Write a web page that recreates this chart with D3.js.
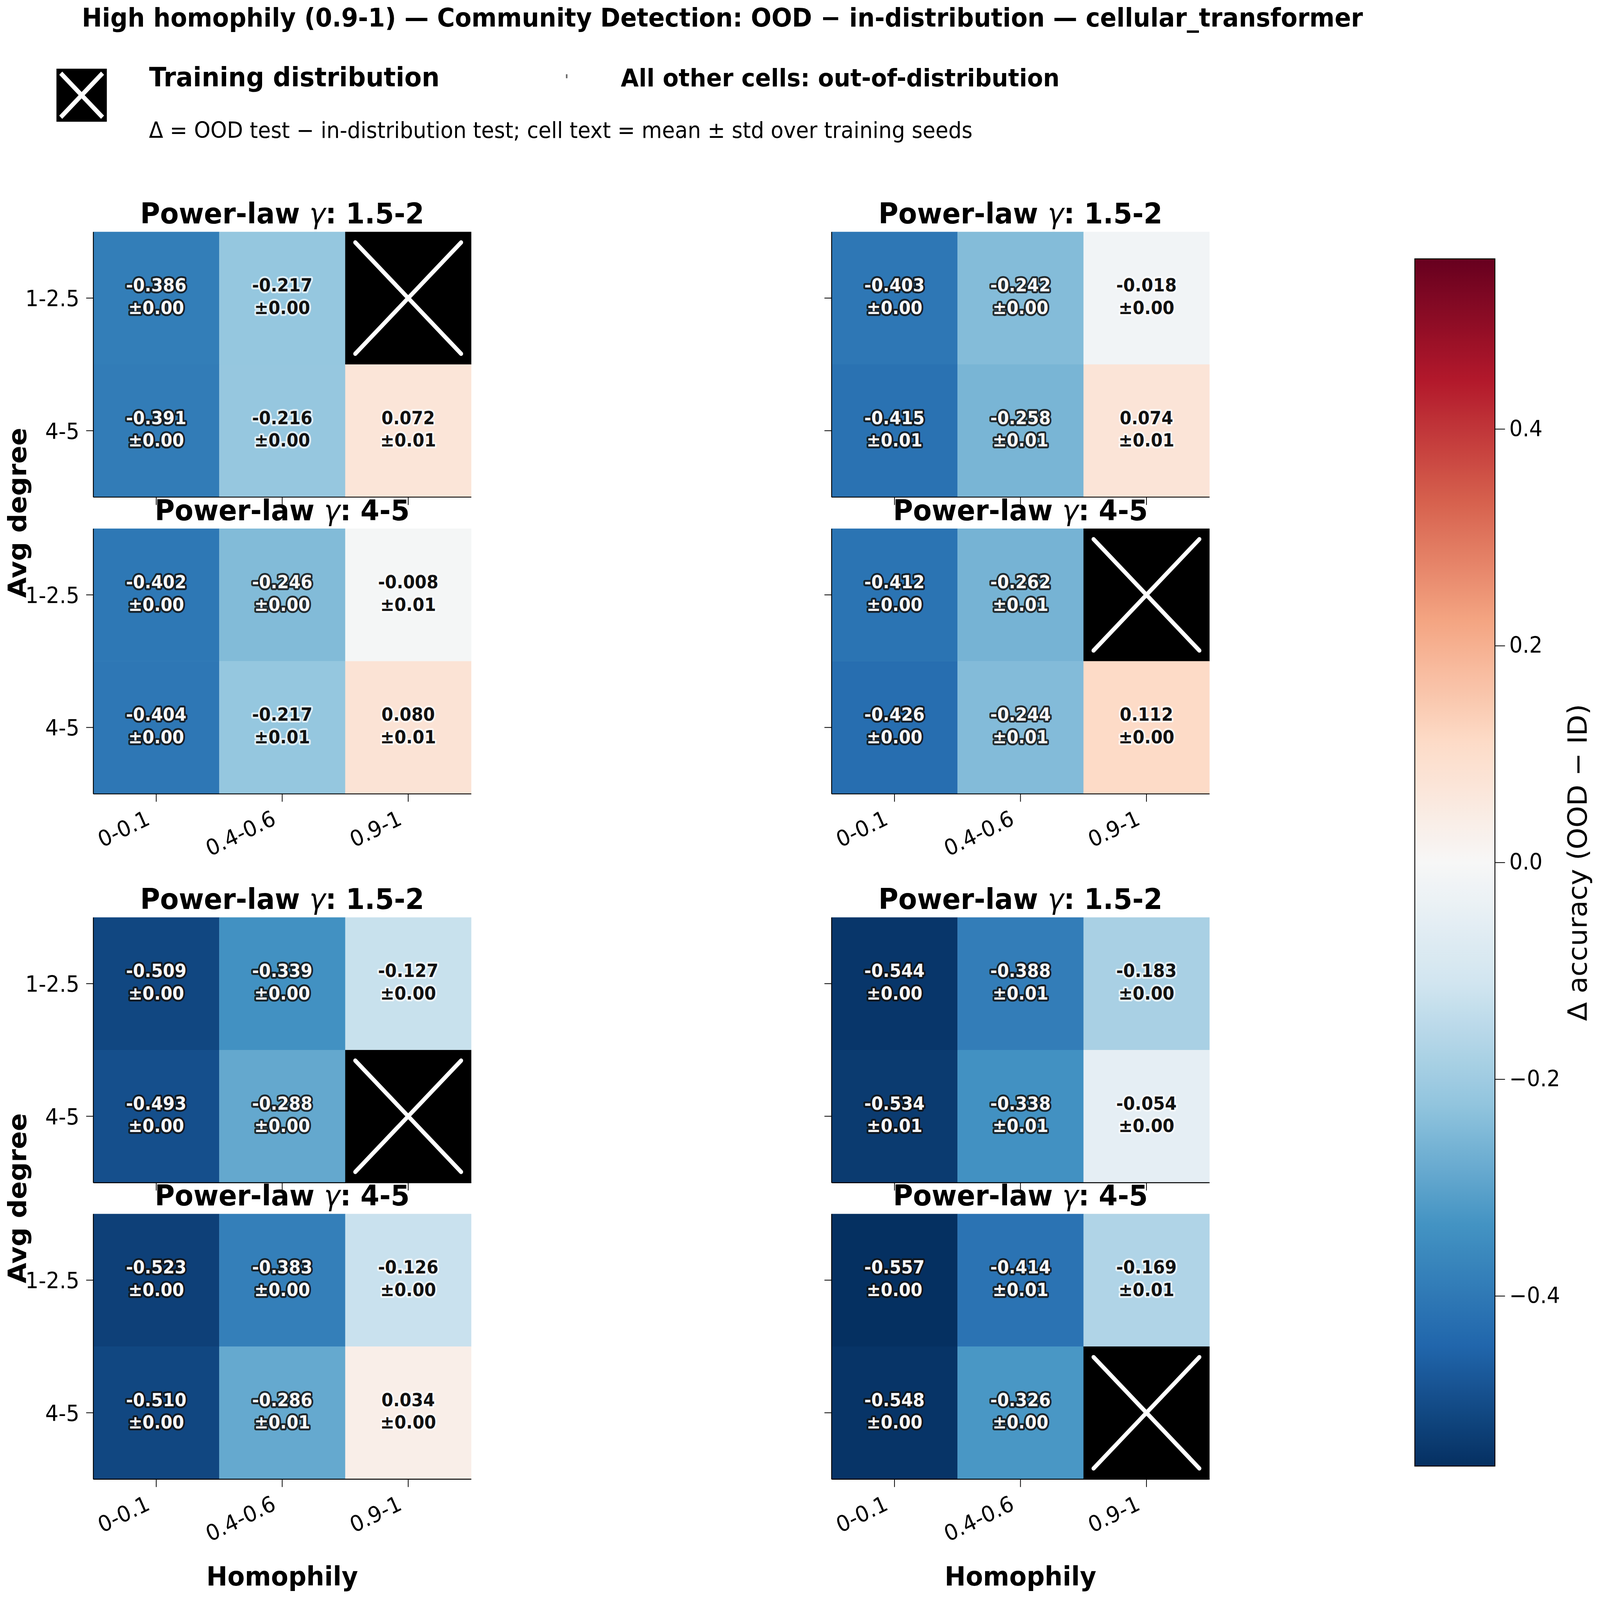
<!DOCTYPE html>
<html><head><meta charset="utf-8">
<script src="https://cdn.jsdelivr.net/npm/d3@7"></script>
<style>html,body{margin:0;padding:0;background:#fff;width:100%;height:100%;overflow:hidden}svg{display:block;width:100vw;height:100vh}</style>
</head><body><svg id="chart"></svg>
<script>
// ---------------- data ----------------
const homophily = ["0-0.1", "0.4-0.6", "0.9-1"];
const avgDegree = ["1-2.5", "4-5"];
const gammaLabels = ["1.5-2", "4-5"];

// null = training distribution cell
const meanTL1 = [[-0.386, -0.217, null], [-0.391, -0.216, 0.072]];
const stdTL1  = [[0.00, 0.00, null], [0.00, 0.00, 0.01]];
const meanTL2 = [[-0.402, -0.246, -0.008], [-0.404, -0.217, 0.080]];
const stdTL2  = [[0.00, 0.00, 0.01], [0.00, 0.01, 0.01]];
const meanTR1 = [[-0.403, -0.242, -0.018], [-0.415, -0.258, 0.074]];
const stdTR1  = [[0.00, 0.00, 0.00], [0.01, 0.01, 0.01]];
const meanTR2 = [[-0.412, -0.262, null], [-0.426, -0.244, 0.112]];
const stdTR2  = [[0.00, 0.01, null], [0.00, 0.01, 0.00]];
const meanBL1 = [[-0.509, -0.339, -0.127], [-0.493, -0.288, null]];
const stdBL1  = [[0.00, 0.00, 0.00], [0.00, 0.00, null]];
const meanBL2 = [[-0.523, -0.383, -0.126], [-0.510, -0.286, 0.034]];
const stdBL2  = [[0.00, 0.00, 0.00], [0.00, 0.01, 0.00]];
const meanBR1 = [[-0.544, -0.388, -0.183], [-0.534, -0.338, -0.054]];
const stdBR1  = [[0.00, 0.01, 0.00], [0.01, 0.01, 0.00]];
const meanBR2 = [[-0.557, -0.414, -0.169], [-0.548, -0.326, null]];
const stdBR2  = [[0.00, 0.01, 0.01], [0.00, 0.00, null]];

const colorDomain = [-0.557, 0.557];
const colorTicks = [-0.4, -0.2, 0.0, 0.2, 0.4];
const rdbuR = ["#053061", "#2166ac", "#4393c3", "#92c5de", "#d1e5f0", "#f7f7f7",
               "#fddbc7", "#f4a582", "#d6604d", "#b2182b", "#67001f"];

const titleText = "High homophily (0.9-1) \u2014 Community Detection: OOD \u2212 in-distribution \u2014 cellular_transformer";
const legendTrain = "Training distribution";
const legendOther = "All other cells: out-of-distribution";
const subtitleText = "\u0394 = OOD test \u2212 in-distribution test; cell text = mean \u00b1 std over training seeds";
const xLabelText = "Homophily";
const yLabelText = "Avg degree";
const cbLabelText = "\u0394 accuracy (OOD \u2212 ID)";

// ---------------- layout ----------------
const W = 6350, H = 6033;
const FONT = "DejaVu Sans";
const PW = 1500, PH = 1000;
const colX = [370, 3300];
const rowY = [874, 1993, 3459, 4577];

const svg = d3.select("#chart")
  .attr("viewBox", `0 0 ${W} ${H}`).attr("preserveAspectRatio", "none")
  .style("font-family", FONT);
svg.append("rect").attr("width", W).attr("height", H).attr("fill", "#fff");

const [vmin, vmax] = colorDomain;
const color = d3.scaleLinear()
  .domain(d3.range(rdbuR.length).map(i => vmin + i * (vmax - vmin) / (rdbuR.length - 1)))
  .range(rdbuR).interpolate(d3.interpolateRgb).clamp(true);

const panels = [
  {mean: meanTL1, std: stdTL1, g: 0, col: 0, row: 0},
  {mean: meanTL2, std: stdTL2, g: 1, col: 0, row: 1},
  {mean: meanTR1, std: stdTR1, g: 0, col: 1, row: 0},
  {mean: meanTR2, std: stdTR2, g: 1, col: 1, row: 1},
  {mean: meanBL1, std: stdBL1, g: 0, col: 0, row: 2},
  {mean: meanBL2, std: stdBL2, g: 1, col: 0, row: 3},
  {mean: meanBR1, std: stdBR1, g: 0, col: 1, row: 2},
  {mean: meanBR2, std: stdBR2, g: 1, col: 1, row: 3},
];

panels.forEach(p => {
  const x0 = colX[p.col], y0 = rowY[p.row];
  const x = d3.scaleBand().domain(homophily).range([x0, x0 + PW]).padding(0);
  const y = d3.scaleBand().domain(avgDegree).range([y0, y0 + PH]).padding(0);
  const g = svg.append("g");

  const cells = [];
  avgDegree.forEach((dg, i) => homophily.forEach((h, j) => {
    cells.push({dg, h, m: p.mean[i][j], s: p.std[i][j]});
  }));

  g.selectAll("rect.cell").data(cells).join("rect")
    .attr("x", d => x(d.h)).attr("y", d => y(d.dg))
    .attr("width", x.bandwidth() + 0.5).attr("height", y.bandwidth() + 0.5)
    .attr("fill", d => d.m === null ? "#000" : color(d.m));

  // training-cell crosses
  const inset = 40;
  cells.filter(d => d.m === null).forEach(d => {
    const cx0 = x(d.h) + inset, cx1 = x(d.h) + x.bandwidth() - inset;
    const cy0 = y(d.dg) + inset, cy1 = y(d.dg) + y.bandwidth() - inset;
    [[cx0, cy0, cx1, cy1], [cx0, cy1, cx1, cy0]].forEach(l => {
      g.append("line").attr("x1", l[0]).attr("y1", l[1]).attr("x2", l[2]).attr("y2", l[3])
        .attr("stroke", "#fff").attr("stroke-width", 16).attr("stroke-linecap", "round");
    });
  });

  // cell text
  cells.filter(d => d.m !== null).forEach(d => {
    const cx = x(d.h) + x.bandwidth() / 2, cy = y(d.dg) + y.bandwidth() / 2;
    const dark = Math.abs(d.m) / vmax > 0.4;
    const t = g.append("text")
      .attr("text-anchor", "middle")
      .attr("font-size", 67).attr("font-weight", "bold")
      .attr("fill", dark ? "#f7f7f7" : "#111")
      .attr("stroke", dark ? "#111" : "#fff")
      .attr("stroke-opacity", dark ? 0.85 : 0.7)
      .attr("stroke-width", 14).attr("stroke-linejoin", "round")
      .attr("paint-order", "stroke");
    t.append("tspan").attr("x", cx).attr("y", cy - 25).text(d.m.toFixed(3));
    t.append("tspan").attr("x", cx).attr("y", cy + 60).text("\u00b1" + d.s.toFixed(2));
  });

  // x axis (bottom spine + ticks)
  const showX = (p.row === 1 || p.row === 3);
  const gx = g.append("g").attr("transform", `translate(0,${y0 + PH})`)
    .call(d3.axisBottom(x).tickSize(30).tickSizeOuter(0));
  gx.select(".domain").attr("stroke", "#000").attr("stroke-width", 3.5);
  gx.selectAll(".tick line").attr("stroke", "#000").attr("stroke-width", 3);
  gx.selectAll(".tick text").remove();
  if (showX) {
    gx.selectAll(".tick").append("text")
      .attr("transform", "translate(-20,113) rotate(-25)")
      .attr("text-anchor", "end").attr("fill", "#000")
      .attr("font-size", 83).attr("font-family", FONT)
      .text(d => d);
  }

  // y axis (left spine + ticks)
  const showY = p.col === 0;
  const gy = g.append("g").attr("transform", `translate(${x0},0)`)
    .call(d3.axisLeft(y).tickSize(28).tickSizeOuter(0));
  gy.select(".domain").attr("stroke", "#000").attr("stroke-width", 3.5);
  gy.selectAll(".tick line").attr("stroke", "#000").attr("stroke-width", 3);
  gy.selectAll(".tick text").remove();
  if (showY) {
    gy.selectAll(".tick").append("text")
      .attr("x", -55).attr("y", 31)
      .attr("text-anchor", "end").attr("fill", "#000")
      .attr("font-size", 83).attr("font-family", FONT)
      .text(d => d);
  }

  // panel title
  const tt = g.append("text").attr("x", x0 + PW / 2).attr("y", y0 - 31)
    .attr("text-anchor", "middle").attr("font-size", 108).attr("font-weight", "bold");
  tt.append("tspan").text("Power-law ");
  tt.append("tspan").attr("font-style", "italic").attr("font-weight", "normal").text("\u03b3");
  tt.append("tspan").text(": " + gammaLabels[p.g]);
});

// axis labels
[0, 1].forEach(c => {
  svg.append("text").attr("x", colX[c] + PW / 2).attr("y", 5978)
    .attr("text-anchor", "middle").attr("font-size", 100).attr("font-weight", "bold")
    .text(xLabelText);
});
[[rowY[0], rowY[1] + PH], [rowY[2], rowY[3] + PH]].forEach(([a, b]) => {
  svg.append("text").attr("transform", `translate(104,${(a + b) / 2}) rotate(-90)`)
    .attr("text-anchor", "middle").attr("font-size", 100).attr("font-weight", "bold")
    .text(yLabelText);
});

// colorbar
const cbX = 5615, cbW = 318, cbTop = 976, cbBot = 5528;
const cbScale = d3.scaleLinear().domain(colorDomain).range([cbBot, cbTop]);
const defs = svg.append("defs");
const grad = defs.append("linearGradient").attr("id", "cbgrad")
  .attr("x1", 0).attr("y1", 1).attr("x2", 0).attr("y2", 0);
d3.range(0, 1.0001, 0.01).forEach(t => {
  grad.append("stop").attr("offset", t).attr("stop-color", color(vmin + t * (vmax - vmin)));
});
svg.append("rect").attr("x", cbX).attr("y", cbTop).attr("width", cbW).attr("height", cbBot - cbTop)
  .attr("fill", "url(#cbgrad)").attr("stroke", "#000").attr("stroke-width", 3.5);
const gcb = svg.append("g").attr("transform", `translate(${cbX + cbW},0)`)
  .call(d3.axisRight(cbScale).tickValues(colorTicks).tickFormat(d3.format(".1f"))
    .tickSize(40).tickPadding(17).tickSizeOuter(0));
gcb.select(".domain").remove();
gcb.selectAll(".tick line").attr("stroke", "#000").attr("stroke-width", 3);
gcb.selectAll(".tick text").attr("font-size", 83).attr("font-family", FONT).attr("fill", "#000");
svg.append("text").attr("transform", `translate(6297,${(cbTop + cbBot) / 2}) rotate(-90)`)
  .attr("text-anchor", "middle").attr("font-size", 104).text(cbLabelText);

// suptitle
svg.append("text").attr("x", 2867).attr("y", 100).attr("text-anchor", "middle")
  .attr("font-size", 96).attr("font-weight", "bold").text(titleText);

// legend
svg.append("rect").attr("x", 224).attr("y", 259).attr("width", 200).attr("height", 200).attr("fill", "#000");
[[241, 276, 407, 442], [241, 442, 407, 276]].forEach(l => {
  svg.append("line").attr("x1", l[0]).attr("y1", l[1]).attr("x2", l[2]).attr("y2", l[3])
    .attr("stroke", "#fff").attr("stroke-width", 17).attr("stroke-linecap", "butt");
});
svg.append("text").attr("x", 592).attr("y", 325).attr("font-size", 100).attr("font-weight", "bold").text(legendTrain);
svg.append("rect").attr("x", 2246).attr("y", 280).attr("width", 6).attr("height", 15).attr("fill", "#666");
svg.append("text").attr("x", 2464).attr("y", 325).attr("font-size", 92).attr("font-weight", "bold").text(legendOther);
svg.append("text").attr("x", 591).attr("y", 520).attr("font-size", 83).text(subtitleText);
</script></body></html>
